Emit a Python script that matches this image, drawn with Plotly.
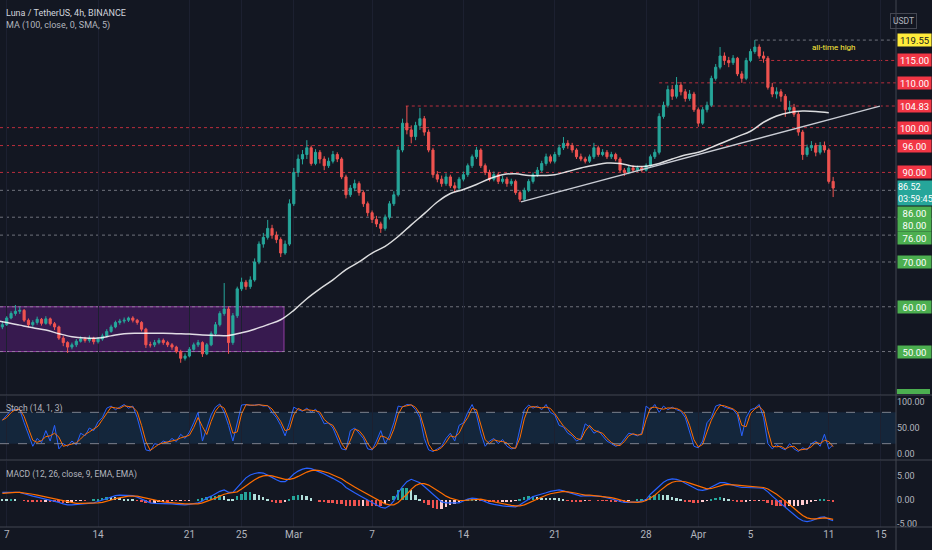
import plotly.graph_objects as go
import pandas as pd

# ---- price data, 8h candles from 2022-02-06 16:00 ----
first_open = 55.5
closes = [
    56.0,
    57.5, 58.5, 59.0,  59.2, 57.0, 56.0,  56.5, 57.2, 56.3,  57.3, 56.2, 55.5,
    53.0, 52.0, 51.0,  51.5, 52.3, 52.8,  52.5, 53.0, 52.2,  52.8, 53.5, 54.5,
    55.5, 56.5, 56.8,  57.0, 57.5, 57.0,  56.5, 55.0, 51.5,  51.5, 52.0, 52.5,
    52.0, 51.5, 51.0,  50.0, 48.5, 49.0,  50.5, 51.5, 52.0,  49.5, 51.5, 54.0,
    56.0, 58.5, 59.5,  52.0, 58.0, 64.0,  65.5, 64.5, 66.0,  70.0, 74.0, 75.5,
    77.5, 76.0, 75.0,  72.0, 74.0, 83.0,  90.0, 93.0, 94.0,  95.5, 92.0, 94.5,
    93.0, 91.5, 92.5,  94.0, 93.0, 89.0,  85.0, 86.5, 87.5,  85.5, 83.0, 81.0,
    79.5, 78.5, 77.5,  80.0, 83.0, 85.0,  95.0, 101.0, 99.5,  98.0, 100.5, 102.0,
    99.0, 95.0, 89.5,  88.5, 87.5, 89.0,  87.0, 86.5, 88.5,  89.5, 91.5, 93.5,
    95.0, 91.5, 90.0,  88.5, 89.5, 88.0,  88.5, 87.5, 88.0,  85.5, 84.0, 86.0,
    88.0, 89.5, 90.5,  92.0, 93.5, 92.5,  94.0, 95.5, 96.5,  96.0, 95.0, 93.5,
    93.0, 92.5, 93.5,  95.5, 94.0, 94.5,  93.5, 94.0, 93.0,  90.5, 90.0, 91.0,
    90.5, 91.0, 90.5,  91.5, 93.5, 94.5,  102.5, 105.0, 108.5,  107.0, 109.5, 108.0,
    106.5, 107.5, 104.0,  101.0, 104.0, 105.0,  111.0, 113.5, 116.0,  115.0, 114.5, 115.5,
    112.0, 111.0, 115.0,  117.0, 118.0, 116.0,  115.5, 109.0, 107.5,  108.0, 107.0, 104.0,
    104.5, 103.0, 99.0,  94.0, 95.5, 96.0,  94.5, 96.0, 95.0,  88.0, 86.52,
]
highs = [
    56.8,
    57.9, 59.0, 60.4,  60.0, 59.5, 57.4,  57.0, 57.8, 57.5,  57.9, 57.6, 56.6,
    55.8, 53.5, 52.3,  52.0, 52.8, 53.4,  53.3, 53.6, 53.3,  53.2, 54.0, 55.0,
    56.0, 56.9, 57.3,  57.6, 57.8, 57.9,  57.3, 56.8, 55.3,  52.2, 52.6, 53.0,
    52.9, 52.4, 51.9,  51.3, 50.4, 49.6,  51.0, 52.0, 52.6,  52.3, 51.9, 54.5,
    56.6, 59.0, 65.3,  60.0, 58.6, 64.5,  66.5, 66.0, 66.8,  70.8, 74.6, 76.5,
    79.4, 78.3, 76.8,  75.5, 74.8, 84.0,  91.0, 94.0, 95.0,  97.2, 96.0, 95.2,
    95.0, 93.6, 93.3,  94.8, 94.5, 93.4,  89.5, 87.2, 88.4,  88.0, 86.0, 83.5,
    81.5, 80.3, 79.0,  80.6, 83.6, 85.8,  95.8, 102.0, 104.83,  100.5, 101.3, 104.4,
    102.6, 99.6, 95.5,  90.3, 89.3, 89.8,  89.5, 87.8, 89.0,  90.2, 92.0, 94.0,
    95.7, 95.4, 92.0,  90.6, 90.2, 90.0,  89.2, 89.0, 88.6,  88.4, 86.0, 86.6,
    88.5, 90.0, 91.2,  92.6, 94.2, 94.0,  94.6, 96.2, 97.9,  97.2, 96.6, 95.4,
    94.2, 93.5, 94.0,  96.6, 96.0, 95.2,  95.0, 94.6, 94.4,  93.4, 91.0, 91.5,
    91.6, 91.5, 91.4,  92.0, 94.0, 95.2,  103.2, 105.8, 109.4,  109.5, 111.3, 110.2,
    108.6, 108.4, 108.0,  104.5, 104.6, 105.8,  111.6, 114.2, 118.0,  116.8, 115.8, 116.2,
    115.8, 112.6, 115.6,  117.6, 119.55, 118.6,  117.0, 116.0, 110.0,  109.0, 108.6, 107.5,
    106.0, 105.3, 103.5,  99.5, 96.2, 97.0,  96.6, 96.8, 96.9,  95.4, 89.0,
]
lows = [
    55.0,
    55.7, 57.2, 58.0,  58.4, 56.6, 55.4,  55.5, 56.0, 55.8,  56.0, 55.8, 54.8,
    52.6, 51.2, 49.7,  50.5, 51.0, 52.0,  52.0, 52.0, 51.6,  51.8, 52.4, 53.2,
    54.2, 55.2, 56.0,  56.3, 56.6, 56.5,  56.0, 54.5, 50.8,  50.9, 51.0, 51.6,
    51.5, 51.0, 50.4,  49.6, 47.5, 48.0,  48.7, 50.2, 51.0,  48.8, 49.2, 51.2,
    53.6, 55.6, 58.0,  49.5, 51.5, 57.5,  63.5, 63.8, 64.0,  65.6, 69.5, 73.2,
    75.0, 75.2, 74.2,  71.1, 71.6, 73.6,  82.5, 89.0, 91.8,  93.0, 91.5, 91.6,
    92.0, 90.5, 91.0,  92.0, 92.3, 88.5,  84.2, 84.5, 85.8,  84.8, 82.3, 80.2,
    78.7, 77.8, 76.5,  77.0, 79.5, 82.5,  84.6, 94.5, 98.5,  96.5, 97.2, 99.5,
    98.2, 94.5, 88.8,  87.8, 86.8, 87.0,  86.5, 85.6, 86.0,  88.0, 89.0, 91.0,
    93.0, 91.0, 89.4,  88.0, 88.0, 87.4,  87.5, 86.8, 87.0,  85.0, 83.4, 83.6,
    85.6, 87.5, 89.0,  90.0, 91.5, 92.0,  92.0, 93.5, 95.0,  95.3, 94.4, 93.0,
    92.5, 92.0, 92.1,  93.0, 93.5, 93.6,  93.0, 93.0, 92.5,  90.0, 89.2, 89.6,
    90.0, 90.0, 90.0,  90.2, 91.2, 93.0,  94.0, 102.0, 104.5,  106.2, 106.5, 107.2,
    105.8, 106.0, 103.5,  100.2, 100.6, 103.4,  104.6, 110.5, 113.0,  114.0, 113.5, 114.0,
    111.5, 110.0, 110.6,  114.6, 116.5, 115.4,  114.5, 108.5, 106.8,  106.5, 105.8, 102.4,
    103.2, 102.4, 98.2,  92.8, 93.5, 94.8,  93.6, 94.0, 94.4,  87.5, 84.5,
]

# MA(100), one value per day from 2022-02-06
ma_vals = [
    57.0, 56.5, 55.9, 55.3, 54.8, 54.0, 53.3, 53.0, 53.0, 53.5, 54.0, 54.1, 54.1,
    54.1, 54.0, 53.9, 53.7, 53.6, 53.6, 54.2, 55.0, 56.0, 57.1, 59.2, 61.8, 64.0,
    66.0, 68.3, 70.0, 72.0, 73.5, 75.7, 78.3, 80.8, 83.4, 85.3, 86.2, 87.3, 88.6,
    89.5, 89.7, 89.3, 89.3, 89.5, 90.2, 91.0, 91.6, 92.1, 92.0, 91.4, 91.4, 92.0,
    93.0, 93.9, 94.5, 95.6, 96.8, 98.0, 99.2, 101.2, 102.6, 103.4, 103.7, 103.6, 103.3,
]

# Stoch %K (14, 1, 3), same 8h candles
stoch_k = [
    65,
    75, 84, 86,  85, 60, 38,  15, 30, 22,  45, 25, 55,  10, 20, 15,  25, 18, 40,
    35, 50, 45,  62, 70, 88,  92, 85, 90,  95, 88, 92,  70, 40, 8,  6, 20, 18,
    25, 22, 30,  24, 38, 30,  42, 60, 80,  25, 50, 75,  90, 96, 80,  55, 25, 60,
    94, 95, 93,  94, 95, 92,  93, 80, 70,  55, 35, 60,  90, 85, 82,  88, 80, 86,
    75, 58, 60,  50, 30, 10,  8, 45, 50,  40, 30, 10,  8, 25, 45,  20, 35, 60,
    92, 90, 95,  94, 85, 70,  30, 8, 5,  10, 15, 30,  40, 25, 55,  60, 80, 95,
    75, 40, 15,  25, 30, 20,  28, 15, 10,  12, 50, 85,  94, 88, 92,  85, 95, 80,
    75, 55, 52,  40, 35, 25,  30, 58, 52,  40, 45, 35,  25, 20, 15,  18, 30, 40,
    38, 35, 40,  92, 85, 95,  80, 92, 85,  90, 85, 82,  70, 40, 15,  12, 25, 60,
    70, 92, 95,  90, 88, 85,  75, 35, 70,  85, 88, 95,  70, 20, 10,  18, 12, 8,
    20, 10, 5,  12, 8, 20,  25, 15, 38,  10, 18,
]

# MACD (12, 26, 9) line and signal
macd_line = [
    1.6,
    1.6, 1.7, 1.7,  1.6, 1.3, 1.0,  0.8, 0.6, 0.4,  0.2, 0.0, -0.2,  -0.5, -0.8, -1.0,
    -1.0, -0.9, -0.8,  -0.8, -0.7, -0.6,  -0.3, 0.0, 0.4,  0.7, 0.9, 1.0,  1.0, 1.0, 0.9,
    0.6, 0.2, -0.3,  -0.6, -0.7, -0.7,  -0.7, -0.8, -0.8,  -0.9, -1.0, -1.0,  -0.9, -0.8, -0.6,
    -0.2, 0.4, 0.8,  1.3, 1.8, 2.1,  1.6, 1.6, 2.5,  3.6, 4.6, 5.2,  5.5, 5.7, 5.6,
    5.2, 4.7, 4.2,  3.8, 3.8, 4.5,  5.4, 6.0, 6.4,  6.6, 6.5, 6.2,  5.8, 5.4, 5.0,
    4.5, 4.0, 3.5,  2.6, 2.0, 1.5,  1.0, 0.5, 0.0,  -0.5, -1.0, -1.5,  -1.7, -1.2, -0.2,
    1.5, 2.8, 3.8,  4.3, 4.0, 3.6,  2.8, 2.0, 1.0,  0.2, -0.4, -0.6,  -0.6, -0.7, -0.6,
    -0.2, 0.2, 0.4,  0.3, 0.0, -0.4,  -0.7, -0.9, -1.1,  -1.2, -1.3, -1.4,  -1.4, -1.0, -0.4,
    0.2, 0.7, 1.0,  1.2, 1.5, 1.8,  2.0, 2.1, 1.9,  1.6, 1.3, 1.0,  0.8, 0.9, 0.9,
    0.9, 0.8, 0.7,  0.5, 0.2, 0.0,  -0.3, -0.5, -0.5,  -0.5, -0.4, -0.2,  0.1, 1.2, 2.1,
    3.0, 3.7, 4.2,  4.4, 4.3, 4.0,  3.5, 3.0, 2.6,  2.1, 2.0, 2.2,  2.7, 3.2, 3.6,
    3.6, 3.4, 3.1,  2.8, 2.6, 2.6,  2.6, 2.5, 2.5,  2.4, 1.7, 0.8,  0.0, -0.8, -1.6,
    -2.2, -3.0, -3.8,  -4.3, -4.5, -4.3,  -4.0, -3.6, -3.5,  -4.0, -4.3,
]
macd_signal = [
    1.4,
    1.5, 1.5, 1.6,  1.6, 1.5, 1.4,  1.2, 1.0, 0.8,  0.6, 0.4, 0.2,  0.0, -0.2, -0.4,
    -0.6, -0.7, -0.7,  -0.7, -0.7, -0.7,  -0.6, -0.5, -0.3,  0.0, 0.3, 0.5,  0.7, 0.8, 0.8,
    0.8, 0.6, 0.4,  0.1, -0.1, -0.3,  -0.4, -0.5, -0.6,  -0.7, -0.8, -0.8,  -0.8, -0.8, -0.8,
    -0.6, -0.3, 0.0,  0.4, 0.8, 1.2,  1.4, 1.5, 1.7,  2.3, 3.0, 3.6,  4.2, 4.7, 5.0,
    5.1, 5.0, 4.8,  4.5, 4.3, 4.3,  4.5, 4.9, 5.4,  5.8, 6.1, 6.2,  6.1, 5.9, 5.6,
    5.2, 4.8, 4.4,  3.8, 3.2, 2.7,  2.2, 1.7, 1.2,  0.7, 0.2, -0.3,  -0.8, -1.0, -1.0,
    -0.5, 0.3, 1.2,  2.2, 3.0, 3.4,  3.4, 3.1, 2.6,  2.0, 1.4, 0.8,  0.4, 0.1, -0.1,
    -0.1, 0.0, 0.1,  0.2, 0.2, 0.0,  -0.2, -0.4, -0.6,  -0.8, -1.0, -1.1,  -1.2, -1.2, -1.0,
    -0.6, -0.2, 0.3,  0.7, 1.0, 1.3,  1.5, 1.7, 1.8,  1.7, 1.6, 1.4,  1.2, 1.0, 1.0,
    0.9, 0.9, 0.8,  0.7, 0.5, 0.3,  0.0, -0.2, -0.4,  -0.5, -0.5, -0.4,  -0.1, 0.4, 1.0,
    1.8, 2.6, 3.2,  3.7, 3.9, 3.9,  3.8, 3.5, 3.2,  2.8, 2.5, 2.3,  2.4, 2.7, 3.0,
    3.2, 3.2, 3.2,  3.1, 3.0, 2.9,  2.8, 2.7, 2.6,  2.6, 2.3, 1.8,  1.2, 0.5, -0.2,
    -0.9, -1.7, -2.5,  -3.2, -3.7, -3.9,  -3.9, -3.8, -3.7,  -3.8, -4.0,
]

# horizontal levels drawn on the chart
level_prices = [119.55, 115.0, 110.0, 104.83, 100.0, 96.0, 90.0, 86.0, 80.0, 76.0, 70.0, 60.0, 50.0]
level_starts = ["2022-04-05 08:00", "2022-04-05 16:00", "2022-03-29 00:00", "2022-03-09 14:00",
                None, None, None, None, None, None, None, None, None]
last_price = 86.52
countdown = "03:59:45"

trend_x = ["2022-03-18 10:00", "2022-04-14 22:00"]
trend_y = [83.4, 104.83]
box_x = ["2022-02-05 00:00", "2022-02-28 06:00"]
box_y = [50.0, 60.0]

tick_dates = ["2022-02-07", "2022-02-14", "2022-02-21", "2022-02-25", "2022-03-01", "2022-03-07",
              "2022-03-14", "2022-03-21", "2022-03-28", "2022-04-01", "2022-04-05", "2022-04-11", "2022-04-15"]
tick_text = ["7", "14", "21", "25", "Mar", "7", "14", "21", "28", "Apr", "5", "11", "15"]

# ---- derived series ----
times = pd.date_range("2022-02-06 16:00", periods=len(closes), freq="8h")
opens = [first_open] + closes[:-1]
ma_dates = pd.date_range("2022-02-06", periods=len(ma_vals), freq="D")
stoch_d = pd.Series(stoch_k).rolling(2, min_periods=1).mean()
hist = [m - s for m, s in zip(macd_line, macd_signal)]
hist_colors = []
for i, h in enumerate(hist):
    prev = hist[i - 1] if i > 0 else h
    if h >= 0:
        hist_colors.append("#26a69a" if h > prev else "#b2dfdb")
    else:
        hist_colors.append("#ffcdd2" if h > prev else "#ef5350")

BG = "#131722"
TXT = "#b2b5be"
FONT = "Roboto"
W, H = 932, 550
PLOT_W = 896
PLOT_H = 527  # plot area height in px (bottom margin holds the date labels)
X_RANGE = ["2022-02-06 11:40", "2022-04-16 03:36"]


def py(ypix):
    return (PLOT_H - ypix) / PLOT_H


fig = go.Figure()

fig.add_trace(go.Candlestick(
    x=times, open=opens, high=highs, low=lows, close=closes,
    increasing=dict(line=dict(color="#26a69a", width=1), fillcolor="#26a69a"),
    decreasing=dict(line=dict(color="#ef5350", width=1), fillcolor="#ef5350"),
    whiskerwidth=0, xaxis="x", yaxis="y", showlegend=False, hoverinfo="skip",
))
fig.add_trace(go.Scatter(x=ma_dates, y=ma_vals, mode="lines", xaxis="x", yaxis="y",
                         line=dict(color="rgba(255,255,255,0.85)", width=1.5, shape="spline"),
                         showlegend=False, hoverinfo="skip"))
fig.add_trace(go.Scatter(x=trend_x, y=trend_y, mode="lines", xaxis="x", yaxis="y",
                         line=dict(color="#c9ccd4", width=1.3), showlegend=False, hoverinfo="skip"))

# stoch pane
fig.add_trace(go.Scatter(x=times, y=stoch_k, mode="lines", xaxis="x2", yaxis="y2",
                         line=dict(color="#2962ff", width=1), showlegend=False, hoverinfo="skip"))
fig.add_trace(go.Scatter(x=times, y=stoch_d, mode="lines", xaxis="x2", yaxis="y2",
                         line=dict(color="#ff6d00", width=1), showlegend=False, hoverinfo="skip"))

# macd pane
fig.add_trace(go.Bar(x=times, y=hist, marker=dict(color=hist_colors, line=dict(width=0)),
                     xaxis="x3", yaxis="y3", showlegend=False, hoverinfo="skip", width=8 * 3600 * 1000 * 0.45))
fig.add_trace(go.Scatter(x=times, y=macd_line, mode="lines", xaxis="x3", yaxis="y3",
                         line=dict(color="#2962ff", width=1.2), showlegend=False, hoverinfo="skip"))
fig.add_trace(go.Scatter(x=times, y=macd_signal, mode="lines", xaxis="x3", yaxis="y3",
                         line=dict(color="#ff6d00", width=1.2), showlegend=False, hoverinfo="skip"))

shapes = []
# purple consolidation box
shapes.append(dict(type="rect", xref="x", yref="y", x0=box_x[0], x1=box_x[1], y0=box_y[0], y1=box_y[1],
                   fillcolor="rgba(123,31,162,0.35)", line=dict(color="rgba(171,71,188,0.8)", width=1),
                   layer="below"))
# level lines
for price, start in zip(level_prices, level_starts):
    if price >= 90 and price != 119.55:
        col = "rgba(242,54,69,0.75)"
    else:
        col = "rgba(150,153,163,0.7)"
    shapes.append(dict(type="line", xref="x", yref="y", x0=start or X_RANGE[0], x1=X_RANGE[1],
                       y0=price, y1=price, line=dict(color=col, width=1, dash="dot"), layer="below"))
# stoch band and dashed bounds
shapes.append(dict(type="rect", xref="x2", yref="y2", x0=X_RANGE[0], x1=X_RANGE[1], y0=20, y1=80,
                   fillcolor="rgba(33,150,243,0.12)", line=dict(width=0), layer="below"))
for lv in [20, 80]:
    shapes.append(dict(type="line", xref="x2", yref="y2", x0=X_RANGE[0], x1=X_RANGE[1], y0=lv, y1=lv,
                       line=dict(color="rgba(150,153,163,0.8)", width=1, dash="dash")))
# pane separators and price-scale border
for ypix in [395, 460, 527]:
    shapes.append(dict(type="line", xref="paper", yref="paper", x0=0, x1=W / PLOT_W, y0=py(ypix), y1=py(ypix),
                       line=dict(color="#434651", width=1)))
shapes.append(dict(type="line", xref="paper", yref="paper", x0=1, x1=1, y0=py(H), y1=1,
                   line=dict(color="#434651", width=1)))
# cut-off green label at bottom of price scale
shapes.append(dict(type="rect", xref="paper", yref="paper", x0=1.001, x1=(W - 2) / PLOT_W,
                   y0=py(394), y1=py(389), fillcolor="#4caf50", line=dict(width=0)))

annotations = []
annotations.append(dict(text="Luna / TetherUS, 4h, BINANCE", xref="paper", yref="paper", x=4 / PLOT_W, y=py(13),
                        xanchor="left", yanchor="middle", showarrow=False, font=dict(size=9, color="#d1d4dc")))
annotations.append(dict(text="MA (100, close, 0, SMA, 5)", xref="paper", yref="paper", x=4 / PLOT_W, y=py(26),
                        xanchor="left", yanchor="middle", showarrow=False, font=dict(size=9, color=TXT)))
annotations.append(dict(text="Stoch (14, 1, 3)", xref="paper", yref="paper", x=4 / PLOT_W, y=py(408),
                        xanchor="left", yanchor="middle", showarrow=False, font=dict(size=8.5, color=TXT)))
annotations.append(dict(text="MACD (12, 26, close, 9, EMA, EMA)", xref="paper", yref="paper", x=4 / PLOT_W,
                        y=py(474), xanchor="left", yanchor="middle", showarrow=False,
                        font=dict(size=8.5, color=TXT)))
annotations.append(dict(text="all-time high", xref="x", yref="y", x="2022-04-11 10:00", y=119.55,
                        yshift=-7, showarrow=False, font=dict(size=8, color="#ffeb3b")))
annotations.append(dict(text="USDT", xref="paper", yref="paper", x=917 / PLOT_W, y=py(13), showarrow=False,
                        font=dict(size=8.5, color=TXT), bordercolor="#434651", borderwidth=1, borderpad=2))

# price-scale labels
label_shift = {86.0: -23, 80.0: -8, 76.0: -3}
for price in level_prices:
    if price == 119.55:
        bg, fg = "#ffeb3b", "#131722"
    elif price >= 90:
        bg, fg = "#f23645", "#ffffff"
    else:
        bg, fg = "#4caf50", "#ffffff"
    annotations.append(dict(text=f"{price:.2f}", xref="paper", yref="y", x=1, y=price,
                            xanchor="left", xshift=1, yshift=label_shift.get(price, 0), showarrow=False,
                            bgcolor=bg, borderpad=0, width=33, height=12, align="center",
                            font=dict(size=9.5, color=fg)))
annotations.append(dict(text=f"{last_price:.2f}<br>{countdown}", xref="paper", yref="y", x=1, y=last_price,
                        xanchor="left", yanchor="top", xshift=1, yshift=8, showarrow=False,
                        bgcolor="#26a69a", borderpad=0, width=35, height=24, align="left",
                        font=dict(size=9, color="#ffffff")))

axis_common = dict(showline=False, zeroline=False, color=TXT, tickfont=dict(size=9, color=TXT))

fig.update_layout(
    width=W, height=H,
    margin=dict(l=0, r=W - PLOT_W, t=0, b=H - PLOT_H),
    paper_bgcolor=BG, plot_bgcolor=BG,
    font=dict(family=FONT, color=TXT),
    showlegend=False, bargap=0,
    xaxis=dict(domain=[0, 1], anchor="y", range=X_RANGE, matches="x3", showticklabels=False,
               rangeslider=dict(visible=False), showgrid=True, gridcolor="#1c2030",
               tickvals=tick_dates, zeroline=False),
    xaxis2=dict(domain=[0, 1], anchor="y2", range=X_RANGE, matches="x3", showticklabels=False,
                showgrid=True, gridcolor="#1c2030", tickvals=tick_dates, zeroline=False),
    xaxis3=dict(domain=[0, 1], anchor="y3", range=X_RANGE, tickvals=tick_dates, ticktext=tick_text,
                showgrid=True, gridcolor="#1c2030", ticks="", tickfont=dict(size=10, color=TXT),
                zeroline=False),
    yaxis=dict(domain=[py(395), 1], range=[40.3, 128.5], side="right", showticklabels=False,
               showgrid=False, **axis_common),
    yaxis2=dict(domain=[py(460), py(396)], range=[-11.3, 111.3], side="right", tickvals=[0, 50, 100],
                ticktext=["0.00", "50.00", "100.00"], showgrid=False, ticks="", **axis_common),
    yaxis3=dict(domain=[0, py(461)], range=[-5.6, 8.1], side="right", tickvals=[-5, 0, 5],
                ticktext=["-5.00", "0.00", "5.00"], showgrid=False, ticks="", **axis_common),
    shapes=shapes,
    annotations=annotations,
)

# the page is photographed at exactly the figure size, so drop the default body margin
fig.write_html("out.html", config={"displayModeBar": False},
               post_script="document.body.style.margin='0';")
